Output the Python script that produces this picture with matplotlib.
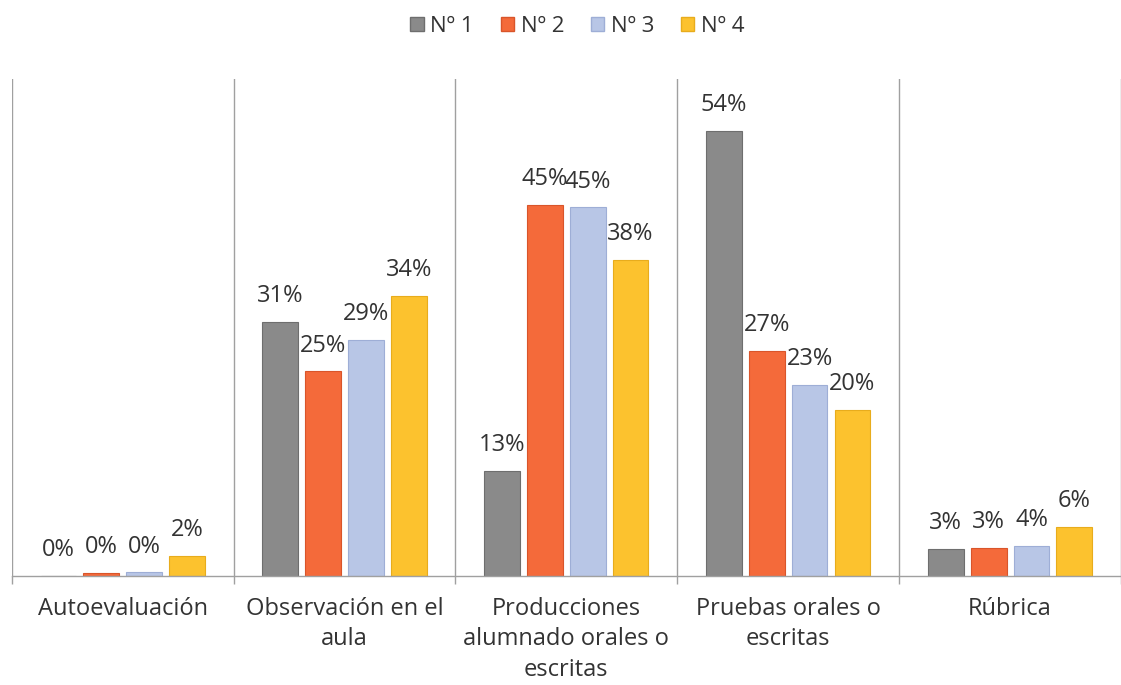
import numpy as np
import matplotlib
matplotlib.use('Agg')
import matplotlib.pyplot as plt
from matplotlib.patches import Patch

plt.rcParams['font.family'] = ['Open Sans', 'DejaVu Sans']

categories = ['Autoevaluación', 'Observación en el\naula',
              'Producciones\nalumnado orales o\nescritas',
              'Pruebas orales o\nescritas', 'Rúbrica']
series = ['Nº 1', 'Nº 2', 'Nº 3', 'Nº 4']
n1 = [0.0, 30.8, 12.7, 54.0, 3.2]
n2 = [0.3, 24.8, 45.0, 27.3, 3.4]
n3 = [0.4, 28.6, 44.7, 23.2, 3.6]
n4 = [2.4, 34.0, 38.3, 20.1, 5.9]
values = [n1, n2, n3, n4]

colors = ['#8a8a8a', '#f46a3a', '#b8c6e6', '#fcc22e']
edges = ['#6e6e6e', '#d9552a', '#9eaed6', '#e8ac1c']

W, H = 1121, 685
fig = plt.figure(figsize=(W / 100, H / 100), dpi=100)
ax = fig.add_axes([11.7 / W, 1 - 575.7 / H, (W - 11.7) / W, (575.7 - 79) / H])

x = np.arange(len(categories))
pitch = 0.193
bw = 0.161
for i, (vals, c, ec) in enumerate(zip(values, colors, edges)):
    pos = x + (i - 1.5) * pitch
    ax.bar(pos, vals, bw, color=c, edgecolor=ec, linewidth=0.8, label=series[i])
    for p, v in zip(pos, vals):
        ax.annotate('%d%%' % round(v), (p, v), xytext=(0, 10), textcoords='offset points',
                    ha='center', va='bottom', fontsize=17, color='#333333')

ax.set_ylim(0, 60.3)
ax.set_xlim(-0.5, -0.5 + (W - 11.7) / 223.3)
ax.set_yticks([])
ax.set_xticks(x)
ax.set_xticklabels(categories, fontsize=17, color='#333333', linespacing=1.38)
ax.tick_params(axis='x', which='major', length=0, pad=15)
ax.set_xticks(np.arange(-0.5, 5, 1.0), minor=True)
ax.tick_params(axis='x', which='minor', length=6, width=1, color='#a0a0a0', direction='out')
ax.grid(axis='x', which='minor', color='#a0a0a0', linewidth=1)
ax.set_axisbelow(True)
for s in ['top', 'right', 'left']:
    ax.spines[s].set_visible(False)
ax.spines['bottom'].set_color('#a0a0a0')
ax.spines['bottom'].set_linewidth(1)

handles = [Patch(facecolor=c, edgecolor=ec) for c, ec in zip(colors, edges)]
fig.legend(handles, series, loc='upper center', bbox_to_anchor=(0.515, 1.006), ncol=4,
           frameon=False, fontsize=16, handlelength=0.6, handleheight=0.6,
           handletextpad=0.3, columnspacing=1.2, labelcolor='#333333')

fig.savefig('out.png', dpi=100)
